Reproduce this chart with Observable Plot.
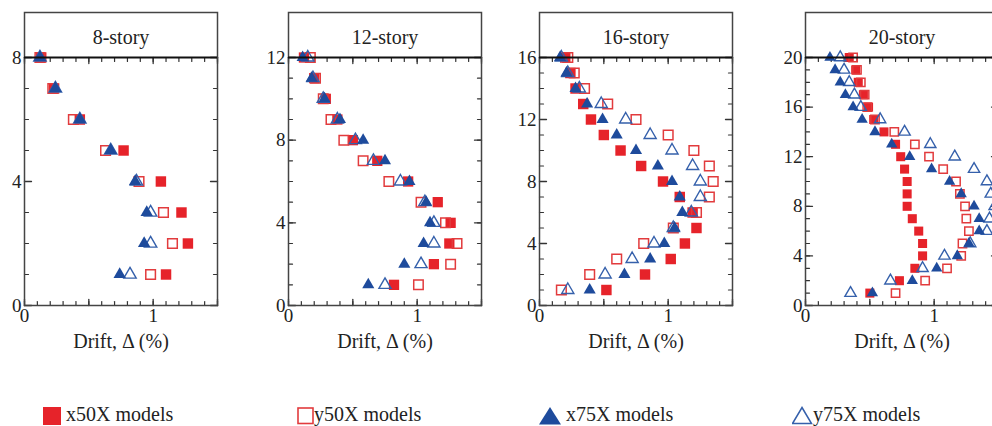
<!DOCTYPE html>
<html><head><meta charset="utf-8">
<script src="https://cdn.jsdelivr.net/npm/d3@7"></script>
<script src="https://cdn.jsdelivr.net/npm/@observablehq/plot@0.6"></script>
<style>
html,body{margin:0;padding:0;background:#fff;}
body{width:992px;height:426px;overflow:hidden;position:relative;font-family:"Liberation Serif","DejaVu Serif",serif;}
.panel{position:absolute;top:0;}
.leg{position:absolute;top:404px;font-size:20px;line-height:20px;color:#222;white-space:nowrap;font-family:"Liberation Serif",serif;}
.legsym{position:absolute;}
</style></head><body>
<div id="root"></div>
<script>
// ---------- data (drift in %, listed from story 1 upward) ----------
const panelTitles = ["8-story", "12-story", "16-story", "20-story"];
const storyCounts = [8, 12, 16, 20];
const yLabelTicks = [[0,4,8], [0,4,8,12], [0,4,8,12,16], [0,4,8,12,16,20]];
const xLabelTicks = [0, 1];
const seriesNames = ["x50X models", "y50X models", "x75X models", "y75X models"];

const x50X_8 = [1.10, 1.27, 1.22, 1.06, 0.77, 0.43, 0.23, 0.13];
const y50X_8 = [0.98, 1.15, 1.08, 0.89, 0.63, 0.38, 0.22, 0.12];
const x75X_8 = [0.74, 0.93, 0.95, 0.86, 0.67, 0.43, 0.24, 0.12];
const y75X_8 = [0.82, 0.98, 0.98, 0.87, 0.67, 0.43, 0.24, 0.12];

const x50X_12 = [0.82, 1.13, 1.25, 1.26, 1.16, 0.93, 0.69, 0.50, 0.38, 0.29, 0.20, 0.12];
const y50X_12 = [1.01, 1.26, 1.31, 1.22, 1.03, 0.78, 0.58, 0.43, 0.33, 0.27, 0.21, 0.17];
const x75X_12 = [0.62, 0.90, 1.05, 1.10, 1.07, 0.94, 0.75, 0.58, 0.40, 0.28, 0.18, 0.11];
const y75X_12 = [0.75, 1.03, 1.13, 1.13, 1.06, 0.87, 0.66, 0.52, 0.38, 0.27, 0.19, 0.15];

const x50X_16 = [0.52, 0.82, 1.02, 1.13, 1.22, 1.19, 1.09, 0.96, 0.79, 0.63, 0.50, 0.40, 0.34, 0.28, 0.24, 0.20];
const y50X_16 = [0.17, 0.39, 0.60, 0.81, 1.04, 1.22, 1.32, 1.35, 1.32, 1.20, 1.00, 0.75, 0.53, 0.35, 0.27, 0.22];
const x75X_16 = [0.39, 0.66, 0.86, 0.97, 1.05, 1.11, 1.09, 1.03, 0.92, 0.75, 0.60, 0.49, 0.37, 0.28, 0.21, 0.16];
const y75X_16 = [0.22, 0.51, 0.72, 0.89, 1.04, 1.18, 1.25, 1.25, 1.19, 1.03, 0.86, 0.67, 0.48, 0.31, 0.22, 0.17];

const x50X_20 = [0.50, 0.73, 0.85, 0.91, 0.91, 0.88, 0.83, 0.79, 0.79, 0.79, 0.77, 0.74, 0.70, 0.61, 0.53, 0.49, 0.45, 0.41, 0.39, 0.34];
const y50X_20 = [0.70, 0.93, 1.10, 1.21, 1.22, 1.27, 1.25, 1.24, 1.20, 1.17, 1.07, 0.96, 0.85, 0.69, 0.54, 0.48, 0.46, 0.43, 0.40, 0.37];
const x75X_20 = [0.52, 0.83, 1.02, 1.18, 1.27, 1.35, 1.35, 1.31, 1.21, 1.12, 0.98, 0.81, 0.67, 0.54, 0.44, 0.37, 0.31, 0.27, 0.23, 0.19];
const y75X_20 = [0.35, 0.66, 0.91, 1.08, 1.28, 1.41, 1.43, 1.47, 1.44, 1.41, 1.31, 1.16, 0.97, 0.77, 0.58, 0.43, 0.38, 0.34, 0.30, 0.27];

// ---------- styling ----------
const RED = "#e6232a", RED_OPEN = "#e23b3d", BLUE = "#1e4b9c", BLUE_OPEN = "#3560ab";
const FONT = '"Liberation Serif", "DejaVu Serif", serif';
const panelLefts = [24, 288, 539, 805];
const squareR = [5.9, 5.8, 5.9, 5.1];
const triR = [4.6, 4.5, 4.5, 4.2];

const panelData = [
  [x50X_8, y50X_8, x75X_8, y75X_8],
  [x50X_12, y50X_12, x75X_12, y75X_12],
  [x50X_16, y50X_16, x75X_16, y75X_16],
  [x50X_20, y50X_20, x75X_20, y75X_20]
];

const tickShape = {draw(ctx, l) { ctx.moveTo(0, 0); ctx.lineTo(0, -l); }};

const ML = 30, MR = 8, MT = 12, MB = 55;
const PW = 193, STORY_H = 248, TITLE_H = 45;
const XMAX = 1.5;

const root = document.getElementById("root");

panelData.forEach((series, p) => {
  const n = storyCounts[p];
  const rows = series.map(arr => arr.map((d, i) => ({story: i + 1, drift: d})));
  const [rx50, ry50, rx75, ry75] = rows;
  const yTop = n * (1 + TITLE_H / STORY_H);

  const xMinor = d3.range(0, 16).map(i => i / 10);
  const xMajor = [0, 0.5, 1, 1.5];
  const yMinor = d3.range(0, n + 1);
  const yMajor = yLabelTicks[p];

  const tk = "#333";
  const chart = Plot.plot({
    width: ML + PW + MR,
    height: MT + STORY_H + TITLE_H + MB,
    marginLeft: ML, marginRight: MR, marginTop: MT, marginBottom: MB,
    style: {fontFamily: FONT, fontSize: "19px", color: "#222", background: "transparent", overflow: "visible"},
    x: {domain: [0, XMAX], axis: null, label: null},
    y: {domain: [0, yTop], axis: null, label: null},
    marks: [
      // tick marks (inward)
      Plot.vector(xMinor, {x: d => d, y: 0, length: 4, rotate: 0, anchor: "start", shape: tickShape, stroke: tk, strokeWidth: 1.2}),
      Plot.vector(xMajor, {x: d => d, y: 0, length: 6, rotate: 0, anchor: "start", shape: tickShape, stroke: tk, strokeWidth: 1.3}),
      Plot.vector(xMinor, {x: d => d, y: n, length: 4, rotate: 180, anchor: "start", shape: tickShape, stroke: tk, strokeWidth: 1.2}),
      Plot.vector(xMajor, {x: d => d, y: n, length: 6, rotate: 180, anchor: "start", shape: tickShape, stroke: tk, strokeWidth: 1.3}),
      Plot.vector(yMinor, {x: 0, y: d => d, length: 4, rotate: 90, anchor: "start", shape: tickShape, stroke: tk, strokeWidth: 1.2}),
      Plot.vector(yMajor, {x: 0, y: d => d, length: 7, rotate: 90, anchor: "start", shape: tickShape, stroke: tk, strokeWidth: 1.3}),
      Plot.vector(yMinor, {x: XMAX, y: d => d, length: 4, rotate: -90, anchor: "start", shape: tickShape, stroke: tk, strokeWidth: 1.2}),
      Plot.vector(yMajor, {x: XMAX, y: d => d, length: 7, rotate: -90, anchor: "start", shape: tickShape, stroke: tk, strokeWidth: 1.3}),
      // axes labels
      Plot.axisX({ticks: xLabelTicks, tickSize: 0, tickPadding: 3, tickFormat: d3.format("d"), fontSize: 19, label: null}),
      Plot.axisY({ticks: yMajor, tickSize: 0, tickPadding: 3, tickFormat: d3.format("d"), fontSize: 19, label: null}),
      // data
      Plot.dot(rx50, {x: "drift", y: "story", symbol: "square", r: squareR[p], fill: RED}),
      Plot.dot(ry50, {x: "drift", y: "story", symbol: "square", r: squareR[p] * 0.92, fill: "none", stroke: RED_OPEN, strokeWidth: 1.5}),
      Plot.dot(ry75, {x: "drift", y: "story", symbol: "triangle", r: triR[p], fill: "none", stroke: BLUE_OPEN, strokeWidth: 1.4}),
      Plot.dot(rx75, {x: "drift", y: "story", symbol: "triangle", r: triR[p], fill: BLUE}),
      // frame, title box
      Plot.frame({stroke: "#444", strokeWidth: 1.5}),
      Plot.ruleY([n], {stroke: "#111", strokeWidth: 2}),
      Plot.text([panelTitles[p]], {frameAnchor: "top", lineAnchor: "middle", dy: 25, fontSize: 20, fill: "#222"}),
      Plot.text(["Drift, \u0394 (%)"], {frameAnchor: "bottom", dy: 42, fontSize: 20, fill: "#222"})
    ]
  });
  chart.classList.add("panel");
  chart.style.left = (panelLefts[p] - ML) + "px";
  chart.style.position = "absolute";
  chart.style.top = "0px";
  root.appendChild(chart);
});

// ---------- legend ----------
const legendItems = [
  {name: seriesNames[0], sym: "sqFill", symLeft: 43, textLeft: 66},
  {name: seriesNames[1], sym: "sqOpen", symLeft: 297, textLeft: 314},
  {name: seriesNames[2], sym: "triFill", symLeft: 539, textLeft: 566},
  {name: seriesNames[3], sym: "triOpen", symLeft: 792, textLeft: 813}
];
legendItems.forEach(it => {
  const s = document.createElementNS("http://www.w3.org/2000/svg", "svg");
  s.setAttribute("class", "legsym");
  s.setAttribute("width", 24); s.setAttribute("height", 20);
  s.style.left = it.symLeft + "px"; s.style.top = "406px";
  let inner = "";
  if (it.sym === "sqFill") inner = `<rect x="0" y="1" width="18" height="18" fill="${RED}"/>`;
  if (it.sym === "sqOpen") inner = `<rect x="1" y="2" width="15" height="15.5" fill="none" stroke="${RED_OPEN}" stroke-width="1.6"/>`;
  if (it.sym === "triFill") inner = `<path d="M11,1 L22,18.5 L0,18.5 Z" fill="${BLUE}"/>`;
  if (it.sym === "triOpen") inner = `<path d="M10,1.5 L19.5,17.5 L0.5,17.5 Z" fill="none" stroke="${BLUE_OPEN}" stroke-width="1.5"/>`;
  s.innerHTML = inner;
  document.body.appendChild(s);
  const t = document.createElement("div");
  t.className = "leg";
  t.style.left = it.textLeft + "px";
  t.textContent = it.name;
  document.body.appendChild(t);
});
</script>
</body></html>
